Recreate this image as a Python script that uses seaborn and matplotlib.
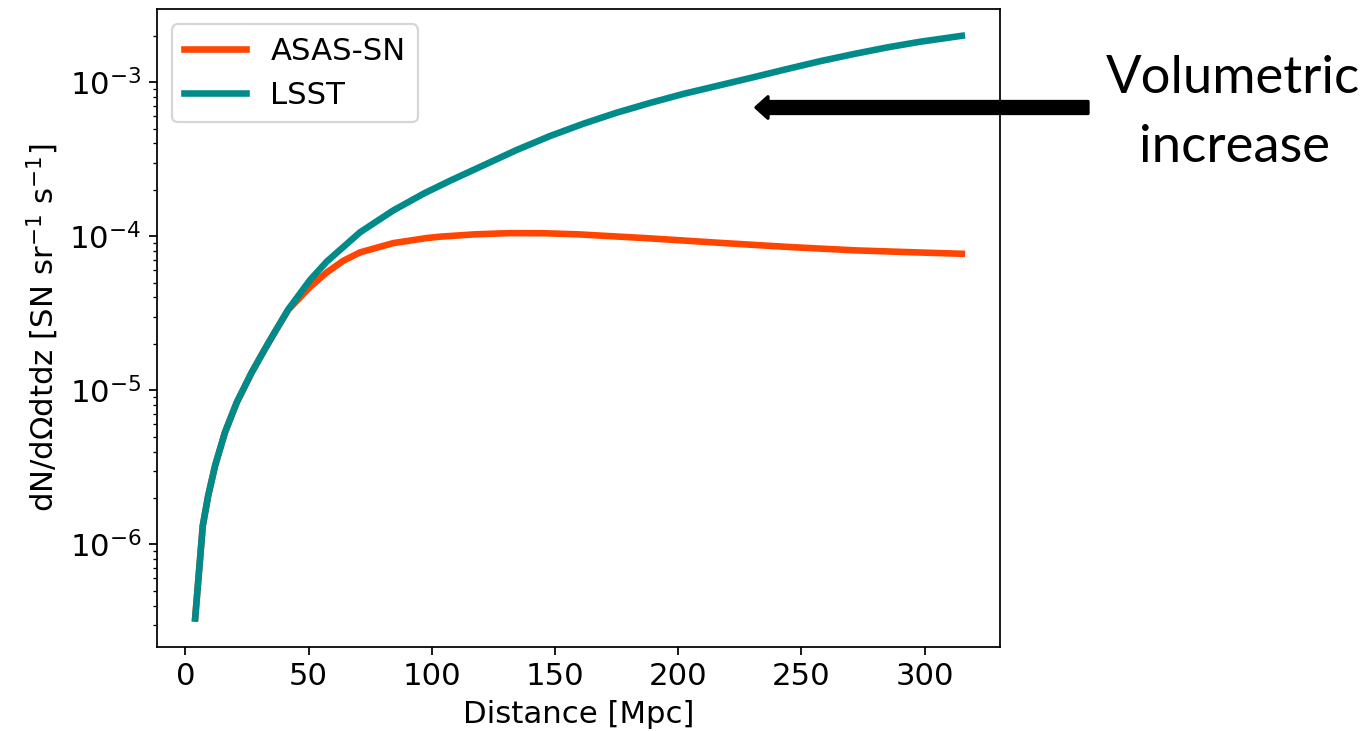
import numpy as np
import pandas as pd
import matplotlib
matplotlib.use("Agg")
import matplotlib.pyplot as plt
import seaborn as sns
from matplotlib.patches import FancyArrow
from matplotlib.transforms import IdentityTransform

# ---- data ----
series_names = ["ASAS-SN", "LSST"]
series_colors = ["#ff4500", "#008b8b"]

dist_lsst = [4.0, 7.1, 9.3, 12.1, 16.1, 20.9, 26.9, 32.3, 36.4, 41.8, 50.6, 57.4,
             70.9, 84.4, 97.0, 107.4, 120.9, 134.5, 148.0, 161.5, 175.1, 188.6,
             202.1, 216.9, 230.5, 244.1, 257.6, 271.1, 284.7, 298.2, 315.1]
rate_lsst = [3.3e-7, 1.32e-6, 2.07e-6, 3.24e-6, 5.33e-6, 8.34e-6, 1.30e-5, 1.85e-5,
             2.40e-5, 3.35e-5, 5.19e-5, 6.84e-5, 1.06e-4, 1.47e-4, 1.90e-4, 2.29e-4,
             2.88e-4, 3.63e-4, 4.47e-4, 5.37e-4, 6.34e-4, 7.33e-4, 8.39e-4, 9.55e-4,
             1.076e-3, 1.216e-3, 1.368e-3, 1.521e-3, 1.680e-3, 1.830e-3, 2.0e-3]

dist_asas = [4.0, 7.1, 9.3, 12.1, 16.1, 20.9, 26.9, 32.3, 36.4, 41.8, 50.6, 57.4,
             64.1, 70.9, 84.4, 98.0, 103.4, 117.4, 131.5, 145.5, 159.5, 187.6,
             215.7, 243.8, 271.9, 300.0, 315.1]
rate_asas = [3.3e-7, 1.32e-6, 2.07e-6, 3.24e-6, 5.33e-6, 8.34e-6, 1.30e-5, 1.85e-5,
             2.39e-5, 3.33e-5, 4.68e-5, 5.82e-5, 6.92e-5, 7.85e-5, 9.02e-5, 9.73e-5,
             9.93e-5, 1.028e-4, 1.047e-4, 1.045e-4, 1.028e-4, 9.70e-5, 9.08e-5,
             8.53e-5, 8.09e-5, 7.82e-5, 7.69e-5]

x_label = "Distance [Mpc]"
y_label = "dN/dΩdtdz [SN sr$^{-1}$ s$^{-1}$]"
annot_lines = ["Volumetric", "increase"]

df = pd.concat([
    pd.DataFrame({"Distance": dist_asas, "rate": rate_asas, "survey": series_names[0]}),
    pd.DataFrame({"Distance": dist_lsst, "rate": rate_lsst, "survey": series_names[1]}),
], ignore_index=True)

DPI = 158
W, H = 1365, 731
fig = plt.figure(figsize=(W / DPI, H / DPI), dpi=DPI)
ax = fig.add_axes([156.7 / W, (H - 647) / H, (1000 - 156.7) / W, (647 - 9) / H])

sns.lineplot(data=df, x="Distance", y="rate", hue="survey", hue_order=series_names,
             palette=series_colors, linewidth=3, estimator=None, sort=True,
             legend=False, ax=ax)
ax.set_yscale("log")
ax.set_xlim(-11.6, 330.6)
ax.set_ylim(10 ** -6.667, 10 ** -2.525)
ax.set_xticks([0, 50, 100, 150, 200, 250, 300])
ax.tick_params(labelsize=14)
ax.set_xlabel(x_label, fontsize=14)
ax.set_ylabel(y_label, fontsize=14)

leg = ax.legend(ax.lines[:2], series_names, loc="upper left", fontsize=14)

# arrow and annotation (figure pixel coordinates)
arrow = FancyArrow(1088, H - 107.5, -332, 0, width=12, head_width=21.5,
                   head_length=12, length_includes_head=True, color="black",
                   linewidth=1.5, joinstyle="round", transform=IdentityTransform())
fig.add_artist(arrow)
fig.text(1233 / W, (H - 92.7) / H, annot_lines[0], fontsize=24, family="Lato",
         ha="center", va="baseline")
fig.text(1234 / W, (H - 162.3) / H, annot_lines[1], fontsize=24, family="Lato",
         ha="center", va="baseline")

fig.savefig("out.png", dpi=DPI)
